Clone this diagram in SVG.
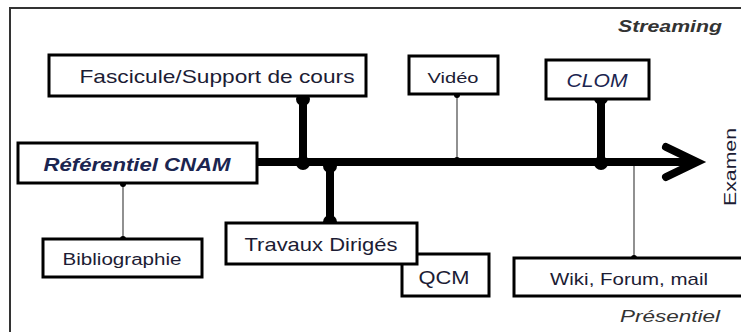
<svg xmlns="http://www.w3.org/2000/svg" width="741" height="332" viewBox="0 0 741 332">
<style>
.box{fill:#fff;stroke:#000;stroke-width:3}
.t{font-family:"Liberation Sans",Arial,sans-serif;fill:#1c1c34;text-anchor:middle}
.it{font-style:italic}
.b{font-weight:bold}
.thick{stroke:#000;stroke-width:8;fill:none;stroke-linecap:butt}
.thin{stroke:#555;stroke-width:1.3;fill:none}
.bd{fill:#000}
</style>
<rect x="0" y="0" width="741" height="332" fill="#fff"/>
<rect x="10" y="8" width="740" height="340" fill="none" stroke="#333" stroke-width="2"/>
<text class="t it b" x="670" y="32" font-size="17" style="fill:#333" textLength="104" lengthAdjust="spacingAndGlyphs">Streaming</text>
<text class="t it" x="670" y="322" font-size="17" style="fill:#333" textLength="100" lengthAdjust="spacingAndGlyphs">Présentiel</text>
<g id="connectors">
<line class="thick" x1="257" y1="162" x2="694" y2="162"/>
<polyline points="666,147 697,162 666,177" fill="none" stroke="#000" stroke-width="8" stroke-linecap="round" stroke-linejoin="miter"/>
<line class="thick" x1="303" y1="99" x2="303" y2="162"/>
<circle class="bd" cx="303" cy="99" r="7"/>
<circle class="bd" cx="303" cy="163" r="7"/>
<line class="thick" x1="330" y1="165" x2="330" y2="222"/>
<circle class="bd" cx="330" cy="166" r="7"/>
<circle class="bd" cx="330" cy="222" r="7"/>
<line class="thick" x1="601" y1="99" x2="601" y2="162"/>
<circle class="bd" cx="601" cy="98" r="7"/>
<circle class="bd" cx="601" cy="163" r="7"/>
<line class="thin" x1="457" y1="95" x2="457" y2="162"/>
<circle class="bd" cx="457" cy="95" r="3"/>
<circle class="bd" cx="457" cy="160" r="3"/>
<line class="thin" x1="123" y1="184" x2="123" y2="239"/>
<circle class="bd" cx="123" cy="184" r="3"/>
<circle class="bd" cx="123" cy="239" r="3"/>
<line class="thin" x1="634" y1="166" x2="634" y2="258"/>
<circle class="bd" cx="634" cy="258" r="3"/>
</g>
<g id="fascicule">
<rect class="box" x="49" y="55" width="317" height="41"/>
<text class="t" x="217" y="83" font-size="19" textLength="275" lengthAdjust="spacingAndGlyphs">Fascicule/Support de cours</text>
</g>
<g id="referentiel">
<rect class="box" x="18" y="143" width="239" height="40"/>
<text class="t it b" x="137" y="171" font-size="19" style="fill:#1b2550" textLength="187" lengthAdjust="spacingAndGlyphs">Référentiel CNAM</text>
</g>
<g id="video">
<rect class="box" x="409" y="56" width="89" height="38"/>
<text class="t" x="453" y="83" font-size="15" textLength="51" lengthAdjust="spacingAndGlyphs">Vidéo</text>
</g>
<g id="clom">
<rect class="box" x="546" y="60" width="103" height="39"/>
<text class="t it" x="597" y="87" font-size="19" style="fill:#1b2550" textLength="61" lengthAdjust="spacingAndGlyphs">CLOM</text>
</g>
<g id="bibliographie">
<rect class="box" x="43" y="239" width="159" height="38"/>
<text class="t" x="122" y="265" font-size="16" textLength="119" lengthAdjust="spacingAndGlyphs">Bibliographie</text>
</g>
<g id="qcm">
<rect class="box" x="402" y="254" width="87" height="42"/>
<text class="t" x="444" y="284" font-size="19" textLength="51" lengthAdjust="spacingAndGlyphs">QCM</text>
</g>
<g id="travaux">
<rect class="box" x="226" y="223" width="191" height="41"/>
<text class="t" x="321" y="251" font-size="19" textLength="153" lengthAdjust="spacingAndGlyphs">Travaux Dirigés</text>
</g>
<g id="wiki">
<rect class="box" x="514" y="258" width="240" height="38"/>
<text class="t" x="629" y="285" font-size="17" textLength="158" lengthAdjust="spacingAndGlyphs">Wiki, Forum, mail</text>
</g>
<g id="examen">
<text class="t" x="0" y="0" font-size="17" transform="translate(736,167) rotate(-90)" textLength="78" lengthAdjust="spacingAndGlyphs">Examen</text>
</g>
</svg>
